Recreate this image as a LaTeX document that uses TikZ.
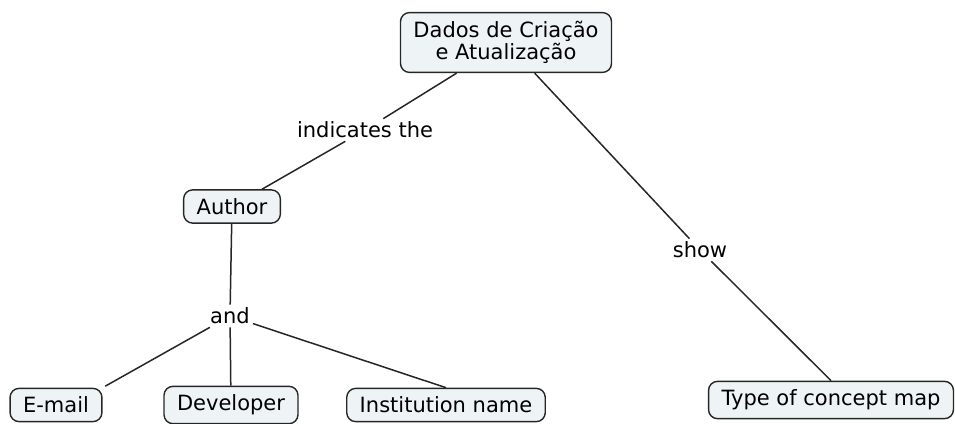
\documentclass[tikz,border=0pt]{standalone}
\usepackage{fontspec}
\setmainfont{DejaVu Sans}
\definecolor{cmapfill}{HTML}{EEF3F6}
\definecolor{cmapline}{HTML}{262626}
\tikzset{
  concept/.style={draw=cmapline, line width=1.4pt, fill=cmapfill, rounded corners=9pt,
    inner xsep=13pt, inner ysep=8.5pt, font=\fontsize{21}{22.5}\selectfont},
  linkword/.style={inner sep=3pt, font=\fontsize{21}{22}\selectfont},
  link/.style={draw=cmapline, line width=1.5pt}
}
\begin{document}
\begin{tikzpicture}[x=1pt,y=-1pt]
\useasboundingbox (0,0) rectangle (955,423);

\node[concept, align=center] (dados) at (506,42.5) {Dados de Criação\\e Atualização};
\node[concept] (author) at (232,206.5) {Author};
\node[concept] (email) at (56,405) {E-mail};
\node[concept] (developer) at (231,405) {Developer};
\node[concept] (institution) at (446,405) {Institution name};
\node[concept] (maptype) at (831,400) {Type of concept map};

\node[linkword] (indicates) at (365,130) {indicates the};
\node[linkword] (and) at (230,316) {and};
\node[linkword] (show) at (700,250) {show};

\draw[link] (dados) -- (indicates);
\draw[link] (indicates) -- (author);
\draw[link] (author) -- (and);
\draw[link, shorten >=3pt] (and) -- (email.north east);
\draw[link] (and) -- (developer);
\draw[link] (and) -- (institution.north);
\draw[link] (dados) -- (show);
\draw[link] (show) -- (maptype.north);
\end{tikzpicture}
\end{document}
